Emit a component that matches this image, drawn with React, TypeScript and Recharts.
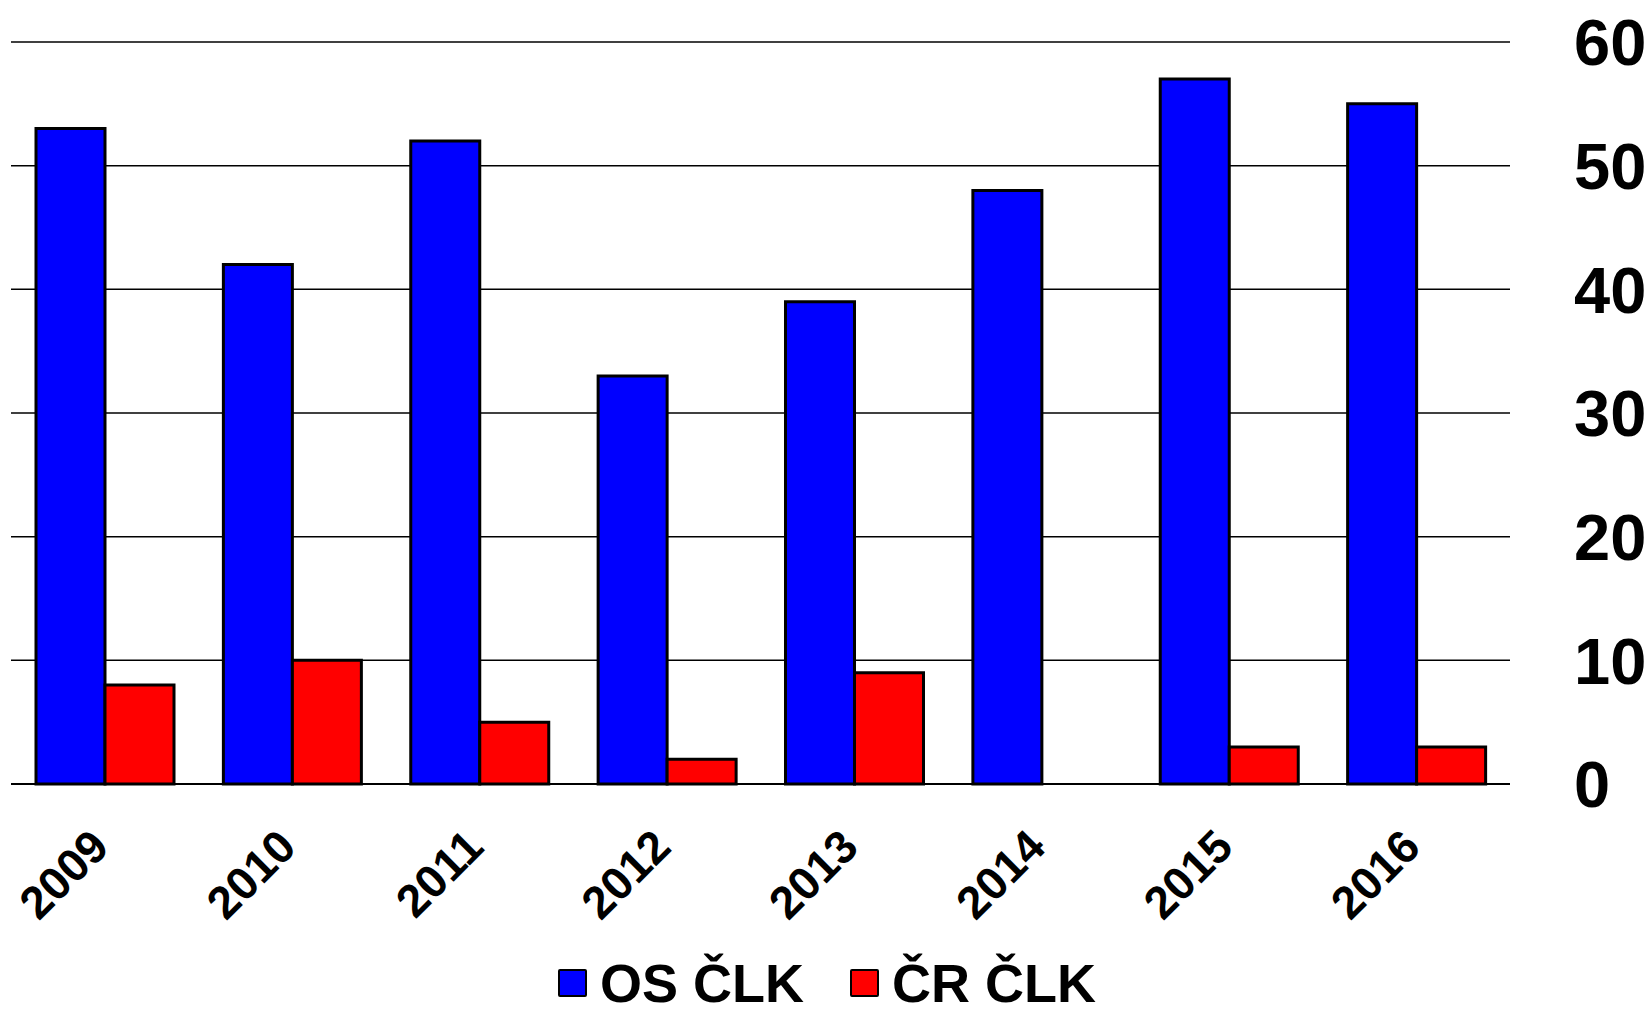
import React from 'react';
import { BarChart, Bar, XAxis, YAxis, CartesianGrid, Legend } from 'recharts';

const years = ['2009', '2010', '2011', '2012', '2013', '2014', '2015', '2016'];
const osClk = [53, 42, 52, 33, 39, 48, 57, 55];
const crClk = [8, 10, 5, 2, 9, 0, 3, 3];
const yTicks = [0, 10, 20, 30, 40, 50, 60];

const data = years.map((y, i) => ({ year: y, os: osClk[i], cr: crClk[i] }));

const FONT = '"Liberation Sans", Arial, Helvetica, sans-serif';

const XTick = (props: any) => {
  const { x, y, payload } = props;
  return (
    <g transform={`translate(${x - 5},${y + 54})`}>
      <text transform="rotate(-45)" textAnchor="end" dy="0.35em" fontSize={46} fontWeight="bold" fontFamily={FONT} fill="#000">
        {payload.value}
      </text>
    </g>
  );
};

const YTick = (props: any) => {
  const { x, y, payload } = props;
  return (
    <text x={x + 64} y={y} dy="0.36em" textAnchor="start" fontSize={65} fontWeight="bold" fontFamily={FONT} fill="#000">
      {payload.value}
    </text>
  );
};

const legendItems = [
  { label: 'OS ČLK', color: '#0000FF' },
  { label: 'ČR ČLK', color: '#FF0000' },
];

const LegendContent = () => (
  <div style={{ display: 'flex', alignItems: 'center', paddingLeft: 558, height: 50, fontFamily: FONT }}>
    {legendItems.map((it, i) => (
      <div key={i} style={{ display: 'flex', alignItems: 'center', marginRight: i === 0 ? 46 : 0 }}>
        <div style={{ width: 25, height: 24, background: it.color, border: '2px solid #000', borderRadius: 2 }} />
        <span style={{ fontSize: 54, fontWeight: 'bold', color: '#000', marginLeft: 13, lineHeight: '50px' }}>{it.label}</span>
      </div>
    ))}
  </div>
);

export default function App() {
  return (
    <div style={{ position: 'absolute', left: 0, top: 0, width: 1650, height: 1010, background: '#fff' }}>
      <BarChart width={1650} height={1010} data={data} margin={{ top: 42, right: 0, left: 11, bottom: 2 }} barCategoryGap={25} barGap={0}>
        <CartesianGrid vertical={false} stroke="#000" strokeWidth={1.5} />
        <XAxis dataKey="year" axisLine={{ stroke: '#000', strokeWidth: 2 }} tickLine={false} tickSize={0} tickMargin={0} height={174} tick={<XTick />} interval={0} />
        <YAxis orientation="right" width={140} domain={[0, 60]} ticks={yTicks} axisLine={false} tickLine={false} tickSize={0} tickMargin={0} tick={<YTick />} />
        <Legend verticalAlign="bottom" align="left" height={50} wrapperStyle={{ height: 50, width: 1650, left: 0 }} content={<LegendContent />} />
        <Bar dataKey="os" fill="#0000FF" stroke="#000" strokeWidth={3} isAnimationActive={false} />
        <Bar dataKey="cr" fill="#FF0000" stroke="#000" strokeWidth={3} isAnimationActive={false} />
      </BarChart>
    </div>
  );
}
